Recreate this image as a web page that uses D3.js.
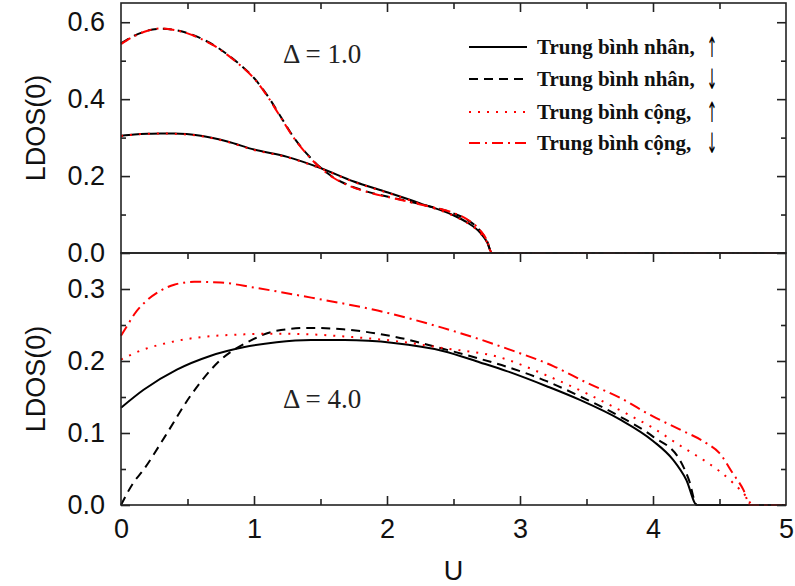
<!DOCTYPE html>
<html><head><meta charset="utf-8">
<script src="https://cdn.jsdelivr.net/npm/d3@7/dist/d3.min.js"></script>
<style>body{margin:0;background:#fff}</style>
</head><body><svg id="c" width="795" height="586"></svg>
<script>
// ---- data ----
const xTicks = [0,1,2,3,4,5];
const topTicks = [0.0,0.2,0.4,0.6];
const botTicks = [0.0,0.1,0.2,0.3];
const legendLabels = ["Trung bình nhân,","Trung bình nhân,","Trung bình cộng,","Trung bình cộng,"];
const legendArrows = ["↑","↓","↑","↓"];
const panelLabels = ["Δ = 1.0","Δ = 4.0"];

// Δ = 1.0 panel
const topGeoUpU = [0,0.1,0.2,0.3,0.4,0.6,0.8,1.0,1.25,1.5,1.75,2.0,2.25,2.5,2.6,2.7,2.75,2.79,3,4,5];
const topGeoUpV = [0.305,0.308,0.31,0.311,0.311,0.305,0.29,0.269,0.25,0.221,0.186,0.158,0.129,0.098,0.08,0.053,0.03,0,0,0,0];
const topAriUpU = [0,0.1,0.2,0.3,0.4,0.6,0.8,1.0,1.25,1.5,1.75,2.0,2.25,2.5,2.6,2.7,2.75,2.79,3,4,5];
const topAriUpV = [0.304,0.308,0.31,0.311,0.31,0.304,0.289,0.268,0.249,0.22,0.185,0.157,0.128,0.097,0.079,0.052,0.029,0,0,0,0];
const topGeoDnU = [0,0.1,0.2,0.3,0.4,0.5,0.6,0.7,0.8,0.9,1.0,1.1,1.2,1.3,1.4,1.5,1.6,1.7,1.8,1.9,2.0,2.25,2.5,2.6,2.7,2.75,2.79,3,4,5];
const topGeoDnV = [0.545,0.565,0.578,0.583,0.58,0.572,0.558,0.54,0.516,0.488,0.455,0.41,0.355,0.3,0.257,0.222,0.196,0.178,0.165,0.155,0.147,0.127,0.103,0.087,0.058,0.033,0,0,0,0];
const topAriDnU = [0,0.1,0.2,0.3,0.4,0.5,0.6,0.7,0.8,0.9,1.0,1.1,1.2,1.3,1.4,1.5,1.6,1.7,1.8,1.9,2.0,2.25,2.5,2.6,2.7,2.75,2.79,3,4,5];
const topAriDnV = [0.543,0.564,0.578,0.584,0.58,0.571,0.557,0.539,0.515,0.487,0.454,0.408,0.353,0.299,0.256,0.221,0.195,0.177,0.164,0.154,0.146,0.126,0.104,0.088,0.059,0.034,0,0,0,0];

// Δ = 4.0 panel
const botGeoUpU = [0,0.17,0.42,0.67,0.92,1.17,1.43,1.68,2.05,2.42,2.7,2.9,3.2,3.45,3.75,4.0,4.15,4.25,4.33,4.5,5];
const botGeoUpV = [0.135,0.16,0.188,0.207,0.219,0.226,0.229,0.229,0.225,0.214,0.198,0.186,0.165,0.146,0.119,0.089,0.063,0.035,0,0,0];
const botGeoDnU = [0,0.09,0.17,0.33,0.52,0.74,0.97,1.17,1.42,1.67,2.05,2.42,2.7,2.9,3.2,3.45,3.75,4.0,4.2,4.27,4.33,4.5,5];
const botGeoDnV = [0,0.03,0.049,0.095,0.151,0.2,0.228,0.242,0.246,0.244,0.234,0.217,0.203,0.192,0.172,0.151,0.123,0.095,0.063,0.035,0,0,0];
const botAriUpU = [0,0.17,0.3,0.55,0.93,1.18,1.43,1.68,2.05,2.42,2.85,3.2,3.5,3.8,4.0,4.2,4.4,4.5,4.6,4.7,4.75,5];
const botAriUpV = [0.202,0.216,0.223,0.232,0.237,0.238,0.237,0.234,0.228,0.218,0.205,0.18,0.155,0.127,0.107,0.083,0.06,0.047,0.031,0.012,0,0];
const botAriDnU = [0,0.05,0.1,0.2,0.3,0.4,0.55,0.75,1.0,1.43,1.93,2.42,2.7,2.95,3.25,3.5,3.75,4.0,4.2,4.4,4.5,4.6,4.68,4.73,5];
const botAriDnV = [0.235,0.25,0.265,0.285,0.298,0.306,0.31,0.309,0.302,0.288,0.27,0.246,0.23,0.214,0.193,0.17,0.149,0.123,0.105,0.086,0.072,0.044,0.021,0,0];

// ---- layout ----
const svg = d3.select("#c");
const L = 121, R = 786, T1 = 3, M = 253, B2 = 505;
const x = d3.scaleLinear().domain([0,5]).range([L,R]);
const yTop = d3.scaleLinear().domain([0,0.65]).range([M,T1]);
const yBot = d3.scaleLinear().domain([0,0.35]).range([B2,M]);

const styles = [
  {color:"#000", dash:null},
  {color:"#000", dash:"9,6"},
  {color:"#ff0000", dash:"2,7"},
  {color:"#ff0000", dash:"11,5,2,5"}
];

function drawPanel(y, series, ticks, minorY, yTop0, yBot0) {
  const g = svg.append("g");
  const line = d3.line().x(d=>x(d[0])).y(d=>y(d[1])).curve(d3.curveMonotoneX);
  series.forEach((s,i)=>{
    g.append("path").datum(d3.zip(s[0],s[1]))
      .attr("d",line).attr("fill","none")
      .attr("stroke",styles[i].color).attr("stroke-width",2)
      .attr("stroke-dasharray",styles[i].dash);
  });
  g.append("rect").attr("x",L).attr("y",yTop0).attr("width",R-L).attr("height",yBot0-yTop0)
    .attr("fill","none").attr("stroke","#222").attr("stroke-width",1.6);
  const yl = d3.axisLeft(y).tickValues(minorY).tickSize(-5).tickFormat("");
  const ylM = d3.axisLeft(y).tickValues(ticks).tickSize(-9).tickFormat(d3.format(".1f")).tickPadding(16);
  const yr = d3.axisRight(y).tickValues(minorY).tickSize(-5).tickFormat("");
  const yrM = d3.axisRight(y).tickValues(ticks).tickSize(-9).tickFormat("");
  [[yl,L],[ylM,L],[yr,R],[yrM,R]].forEach(([a,px])=>{
    const ag = g.append("g").attr("transform",`translate(${px},0)`).call(a);
    ag.select(".domain").remove();
    ag.selectAll("line").attr("stroke","#222").attr("stroke-width",1.6);
    ag.selectAll("text").attr("font-family","Liberation Sans, Arial, sans-serif").attr("font-size",27).attr("fill","#111");
  });
  return g;
}

const minorX = [0.5,1.5,2.5,3.5,4.5];
drawPanel(yTop,[[topGeoUpU,topGeoUpV],[topGeoDnU,topGeoDnV],[topAriUpU,topAriUpV],[topAriDnU,topAriDnV]],
  topTicks,[0.1,0.3,0.5],T1,M);
drawPanel(yBot,[[botGeoUpU,botGeoUpV],[botGeoDnU,botGeoDnV],[botAriUpU,botAriUpV],[botAriDnU,botAriDnV]],
  botTicks,[0.05,0.15,0.25],M,B2);

function xAxisAt(py, dir, withLabels){
  const mk = dir==="down" ? d3.axisTop : d3.axisBottom;
  const a1 = mk(x).tickValues(xTicks.filter(v=>v>0&&v<5)).tickSize(-9).tickFormat("");
  const a2 = mk(x).tickValues(minorX).tickSize(-6).tickFormat("");
  [a1,a2].forEach(a=>{
    const ag = svg.append("g").attr("transform",`translate(0,${py})`).call(a);
    ag.select(".domain").remove();
    ag.selectAll("line").attr("stroke","#222").attr("stroke-width",1.6);
  });
  if (withLabels) {
    const a3 = d3.axisBottom(x).tickValues(xTicks).tickSize(0).tickPadding(14).tickFormat(d3.format("d"));
    const ag = svg.append("g").attr("transform",`translate(0,${py})`).call(a3);
    ag.select(".domain").remove();
    ag.selectAll("text").attr("font-family","Liberation Sans, Arial, sans-serif").attr("font-size",27).attr("fill","#111");
  }
}
xAxisAt(T1,"down",false);
xAxisAt(M,"down",false);
xAxisAt(B2,"up",true);

svg.append("text").attr("x",(L+R)/2).attr("y",580).attr("text-anchor","middle")
  .attr("font-family","Liberation Sans, Arial, sans-serif").attr("font-size",27).attr("fill","#111").text("U");
[(M+T1)/2,(M+B2)/2].forEach(cy=>{
  svg.append("text").attr("transform",`translate(45,${cy}) rotate(-90)`).attr("text-anchor","middle")
    .attr("font-family","Liberation Sans, Arial, sans-serif").attr("font-size",27).attr("fill","#111").text("LDOS(0)");
});

[[panelLabels[0],63],[panelLabels[1],408]].forEach(([t,by])=>{
  svg.append("text").attr("x",283).attr("y",by)
    .attr("font-family","Liberation Serif, Times New Roman, serif").attr("font-size",27)
    .attr("fill","#222").text(t);
});

const rowsY = [47,79,112,143];
legendLabels.forEach((lab,i)=>{
  const ry = rowsY[i];
  svg.append("line").attr("x1",469).attr("x2",527).attr("y1",ry).attr("y2",ry)
    .attr("stroke",styles[i].color).attr("stroke-width",2).attr("stroke-dasharray",styles[i].dash);
  svg.append("text").attr("x",537).attr("y",ry+7)
    .attr("font-family","Liberation Serif, Times New Roman, serif").attr("font-weight","bold")
    .attr("font-size",21).attr("fill","#111").text(lab);
  svg.append("text").attr("transform",`translate(712,${ry+10}) scale(0.65,1.4)`).attr("text-anchor","middle")
    .attr("font-family","DejaVu Sans, sans-serif").attr("font-size",20).attr("fill","#000")
    .text(legendArrows[i]);
});
</script></body></html>
